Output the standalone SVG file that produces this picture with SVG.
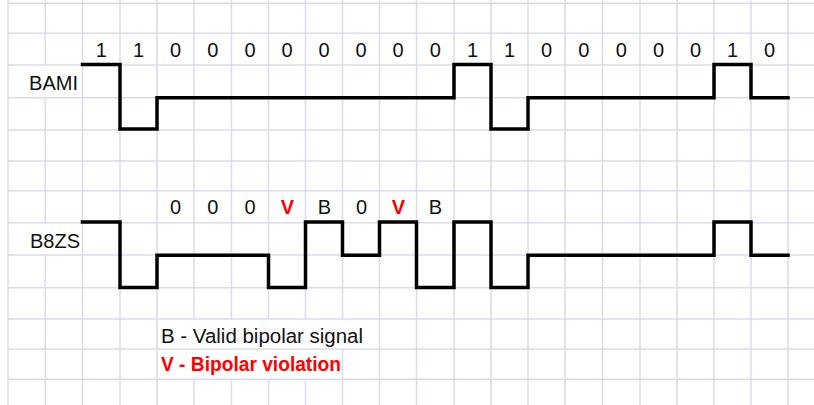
<svg xmlns="http://www.w3.org/2000/svg" width="814" height="405" viewBox="0 0 814 405">
<style>
.grid{stroke:#d9dcea;stroke-width:1.5;fill:none}
.sig{stroke:#000;stroke-width:3.5;fill:none;stroke-linejoin:miter;stroke-linecap:square}
text{font-family:"Liberation Sans",Arial,sans-serif;font-size:20px;fill:#111}
.bit{text-anchor:middle}
.v{fill:#ff0000;font-weight:bold}
</style>
<rect width="814" height="405" fill="#fff"/>
<g id="grid" class="grid">
<path d="M8,3.3H814M8,33.3H814M8,65H814M8,97.7H814M8,130H814M8,161H814M8,190.7H814M8,222.7H814M8,255H814M8,287.7H814M8,319H814M8,349H814M8,379.3H814"/>
<path d="M8,0V405M45.3,0V65M45.3,97.7V222.7M45.3,255V405M82.5,0V405M120,0V405M157,0V405M194,0V319M194,379.3V405M231.5,0V319M231.5,379.3V405M268.5,0V319M268.5,379.3V405M305.5,0V319M305.5,379.3V405M342.5,0V319M342.5,349V405M379.5,0V405M416.5,0V405M454,0V405M491,0V405M528,0V405M565,0V405M602.5,0V405M640,0V405M677,0V405M714,0V405M751,0V405M788,0V405"/>
</g>
<g id="bits-bami">
<text class="bit" x="101.25" y="56.5">1</text>
<text class="bit" x="138.5" y="56.5">1</text>
<text class="bit" x="175.5" y="56.5">0</text>
<text class="bit" x="212.75" y="56.5">0</text>
<text class="bit" x="250" y="56.5">0</text>
<text class="bit" x="287" y="56.5">0</text>
<text class="bit" x="324" y="56.5">0</text>
<text class="bit" x="361" y="56.5">0</text>
<text class="bit" x="398" y="56.5">0</text>
<text class="bit" x="435.25" y="56.5">0</text>
<text class="bit" x="472.5" y="56.5">1</text>
<text class="bit" x="509.5" y="56.5">1</text>
<text class="bit" x="546.5" y="56.5">0</text>
<text class="bit" x="583.75" y="56.5">0</text>
<text class="bit" x="621.25" y="56.5">0</text>
<text class="bit" x="658.5" y="56.5">0</text>
<text class="bit" x="695.5" y="56.5">0</text>
<text class="bit" x="732.5" y="56.5">1</text>
<text class="bit" x="769.5" y="56.5">0</text>
</g>
<g id="label-bami"><text x="78" y="90" text-anchor="end">BAMI</text></g>
<g id="bits-b8zs">
<text class="bit" x="175.5" y="213.5">0</text>
<text class="bit" x="212.75" y="213.5">0</text>
<text class="bit" x="250" y="213.5">0</text>
<text class="bit v" x="287.5" y="213.5">V</text>
<text class="bit" x="324.5" y="213.5">B</text>
<text class="bit" x="361.5" y="213.5">0</text>
<text class="bit v" x="398.5" y="213.5">V</text>
<text class="bit" x="435.5" y="213.5">B</text>
</g>
<g id="label-b8zs"><text x="80" y="247.5" text-anchor="end">B8ZS</text></g>
<g id="connectors">
<path id="wave-bami" class="sig" d="M82.5,64.5H120V129H157V97.7H454V64.5H491V129H528V97.7H714V64.5H751V97.7H788"/>
<path id="wave-b8zs" class="sig" d="M82.5,222H120V287.5H157V255.3H268.5V287.5H305.5V222H342.5V255.3H379.5V222H416.5V287.5H454V222H491V287.5H528V255.3H714V222H751V255.3H788"/>
</g>
<g id="legend">
<text x="161" y="342.5" textLength="202" lengthAdjust="spacingAndGlyphs">B - Valid bipolar signal</text>
<text class="v" x="161" y="371" textLength="180" lengthAdjust="spacingAndGlyphs">V - Bipolar violation</text>
</g>
</svg>
